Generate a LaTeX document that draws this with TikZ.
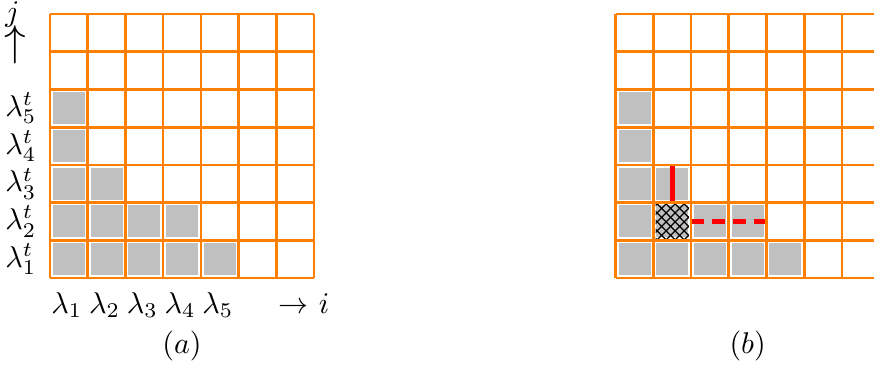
\documentclass[tikz,border=0pt]{standalone}
\usepackage{amsmath, amssymb}
\usepackage{xcolor}
\usepackage{tikz}
\usetikzlibrary{patterns}
\definecolor{gridorange}{RGB}{255,128,0}
\definecolor{cellgray}{RGB}{192,192,192}
\tikzset{
    gridline/.style={gridorange, line width=0.9pt},
    cellbox/.style={fill=cellgray, draw=white, line width=0.4pt},
    armline/.style={red, line width=1.6pt},
}

\begin{document}
\begin{tikzpicture}[x=12.57pt, y=12.57pt]
    \useasboundingbox (-1.326,-2.334) rectangle (21.85,7.372);
    % left: the diagram of lambda with its labels
    \begin{scope}
        \foreach \c/\h in {1/5,2/3,3/2,4/2,5/1}
            \foreach \r in {1,...,\h}
                \filldraw[cellbox] (\c-0.94,\r-0.94) rectangle (\c-0.06,\r-0.06);
        \draw[gridline] (0,0) grid[step=1] (7,7);
        \foreach \k in {1,...,5} {
            \node[left, xshift=-1pt] (colt\k) at (0,\k-0.5) {$\lambda^t_\k$};
            \node[anchor=base] (row\k) at (\k-0.55,-0.93) {$\lambda_\k$};
        }
        \node[inner sep=0pt] (jlab) at (-0.994,6.98) {$j$};
        \node[inner sep=0pt, font=\fontsize{15.5}{18}\selectfont] (jarrow) at (-0.93,6.2) {$\uparrow$};
        \node[anchor=base] (ilab) at (6.735,-0.93) {$\rightarrow$ $i$};
        \node[anchor=base] (capa) at (3.5,-2.0) {$(a)$};
    \end{scope}
    % right: same diagram, one box hatched with its arm and leg
    \begin{scope}[shift={(15,0)}]
        \foreach \c/\h in {1/5,2/3,3/2,4/2,5/1}
            \foreach \r in {1,...,\h}
                \filldraw[cellbox] (\c-0.94,\r-0.94) rectangle (\c-0.06,\r-0.06);
        \fill[pattern=crosshatch] (1.06,1.06) rectangle (1.94,1.94);
        \draw[armline] (1.5,2) -- (1.5,3);
        \draw[armline, dash pattern=on 4.2pt off 2.8pt] (2,1.5) -- (4,1.5);
        \draw[gridline] (0,0) grid[step=1] (7,7);
        \node[anchor=base] (capb) at (3.5,-2.0) {$(b)$};
    \end{scope}
\end{tikzpicture}
\end{document}
